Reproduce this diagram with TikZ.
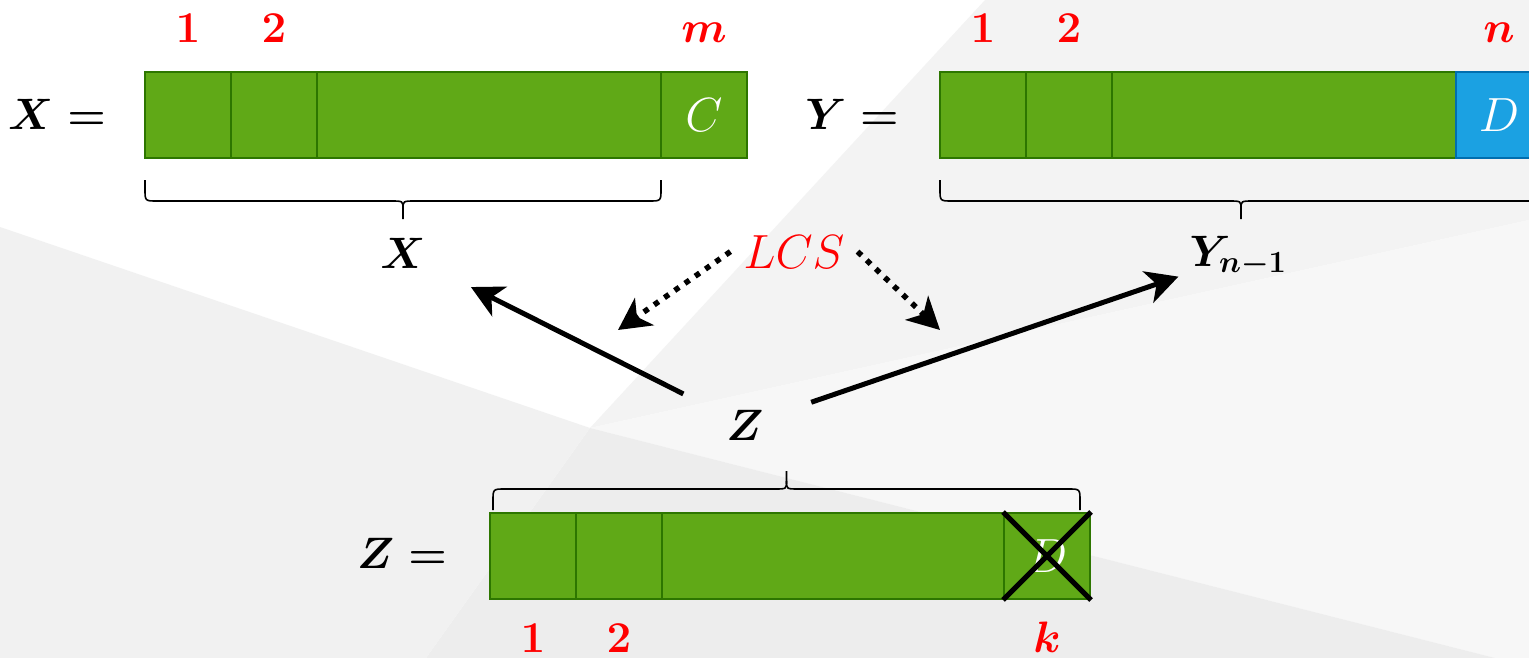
\RequirePackage{fix-cm}
\documentclass[tikz,border=0pt]{standalone}
\usepackage{amsmath}
\usetikzlibrary{arrows.meta,calc}
\definecolor{gfill}{HTML}{60A917}
\definecolor{gline}{HTML}{2D7600}
\definecolor{bfill}{HTML}{1BA1E2}
\definecolor{bline}{HTML}{006EAF}
\definecolor{bgTR}{HTML}{F3F3F3}
\definecolor{bgR}{HTML}{F7F7F7}
\definecolor{bgB}{HTML}{EDEDED}
\definecolor{bgL}{HTML}{F1F1F1}
\newcommand{\curlybr}[4]{%
  \pgfmathsetmacro{\bmid}{(#1+#2)/2}%
  \pgfmathsetmacro{\ya}{#3+(#4)*9}%
  \pgfmathsetmacro{\yh}{#3+(#4)*21}%
  \pgfmathsetmacro{\yc}{#3+(#4)*29}%
  \pgfmathsetmacro{\yt}{#3+(#4)*39}%
  \pgfmathsetmacro{\xa}{#1+12}%
  \pgfmathsetmacro{\xb}{\bmid-12}%
  \pgfmathsetmacro{\xc}{\bmid+12}%
  \pgfmathsetmacro{\xd}{#2-12}%
  \draw[bracestyle] (#1,#3) -- (#1,\ya) .. controls (#1,\yh) .. (\xa,\yh) -- (\xb,\yh)
     .. controls (\bmid,\yh) .. (\bmid,\yc) -- (\bmid,\yt);
  \draw[bracestyle] (\bmid,\yc) .. controls (\bmid,\yh) .. (\xc,\yh) -- (\xd,\yh)
     .. controls (#2,\yh) .. (#2,\ya) -- (#2,#3);
}
\begin{document}
\begin{tikzpicture}[x=1pt,y=-1pt,
  txt/.style={font=\fontsize{44}{52}\selectfont\boldmath, inner sep=0pt},
  idx/.style={txt, text=red, anchor=base},
  cell/.style={draw=gline, fill=gfill, line width=2pt, minimum height=86pt, inner sep=0pt,
     text=white, font=\fontsize{48}{56}\selectfont},
  bcell/.style={cell, draw=bline, fill=bfill},
  bracestyle/.style={line width=1.6pt, black},
  solidarrow/.style={line width=5pt, -{Stealth[length=32pt,width=33pt,inset=9pt]}},
  dotarrow/.style={line width=5.5pt, dash pattern=on 5.5pt off 7pt, -{Stealth[length=32pt,width=33pt,inset=9pt]}},
  crossline/.style={line width=5pt, black}]
\useasboundingbox (0,0) rectangle (1529,658);
\clip (0,0) rectangle (1529,658);
% background
\fill[white] (0,0) rectangle (1529,658);
\coordinate (V) at (590,428);
\fill[bgTR] (985,0) -- (1529,0) -- (1529,220) -- (V) -- cycle;
\fill[bgR] (V) -- (1529,220) -- (1529,658) -- (1495,658) -- cycle;
\fill[bgB] (V) -- (1495,658) -- (426,658) -- cycle;
\fill[bgL] (0,227) -- (V) -- (426,658) -- (0,658) -- cycle;

% X row
\node[txt, anchor=base] (xeq) at (57,130) {$X =$};
\node[cell, minimum width=86pt] (x1) at (188,115) {};
\node[cell, minimum width=86pt] (x2) at (274,115) {};
\node[cell, minimum width=344pt] (x3) at (489,115) {};
\node[cell, minimum width=86pt] (x4) at (704,115) {$C$};
\node[idx] (xi1) at (188,43) {$1$};
\node[idx] (xi2) at (274,43) {$2$};
\node[idx] (xim) at (704,43) {$m$};
\curlybr{145}{661}{180}{1}
\node[txt, anchor=base] (xlab) at (403,268) {$X$};

% Y row
\node[txt, anchor=base] (yeq) at (852,130) {$Y =$};
\node[cell, minimum width=86pt] (y1) at (983,115) {};
\node[cell, minimum width=86pt] (y2) at (1069,115) {};
\node[cell, minimum width=344pt] (y3) at (1284,115) {};
\node[bcell, minimum width=86pt] (y4) at (1499,115) {$D$};
\node[idx] (yi1) at (983,43) {$1$};
\node[idx] (yi2) at (1069,43) {$2$};
\node[idx] (yin) at (1499,43) {$n$};
\curlybr{940}{1542}{180}{1}
\node[txt, anchor=base] (ylab) at (1238,266) {$Y_{n-1}$};

% LCS
\node[font=\fontsize{48}{56}\selectfont, text=red, inner xsep=13pt, inner ysep=0pt, anchor=base] (lcs) at (794,268) {$LCS$};
\coordinate (dl) at (618,330);
\coordinate (dr) at (940,330);
\draw[dotarrow] (lcs.west) -- (dl);
\draw[dotarrow] (lcs.east) -- (dr);

% Z middle
\node[txt, anchor=base] (zmid) at (745,440) {$Z$};
\draw[solidarrow, shorten <=69pt, shorten >=76pt] (zmid.center) -- (xlab.center);
\draw[solidarrow, shorten <=70pt, shorten >=63pt] (zmid.center) -- (ylab.center);

% Z row
\curlybr{493}{1080}{510}{-1}
\node[txt, anchor=base] (zeq) at (402,568) {$Z =$};
\node[cell, minimum width=86pt] (z1) at (533,556) {};
\node[cell, minimum width=86pt] (z2) at (619,556) {};
\node[cell, minimum width=342pt] (z3) at (833,556) {};
\node[cell, minimum width=86pt] (z4) at (1047,556) {$D$};
\draw[crossline] (z4.north west) -- (z4.south east);
\draw[crossline] (z4.south west) -- (z4.north east);
\node[idx] (zi1) at (533,652) {$1$};
\node[idx] (zi2) at (619,652) {$2$};
\node[idx] (zik) at (1047,652) {$k$};
\end{tikzpicture}
\end{document}
